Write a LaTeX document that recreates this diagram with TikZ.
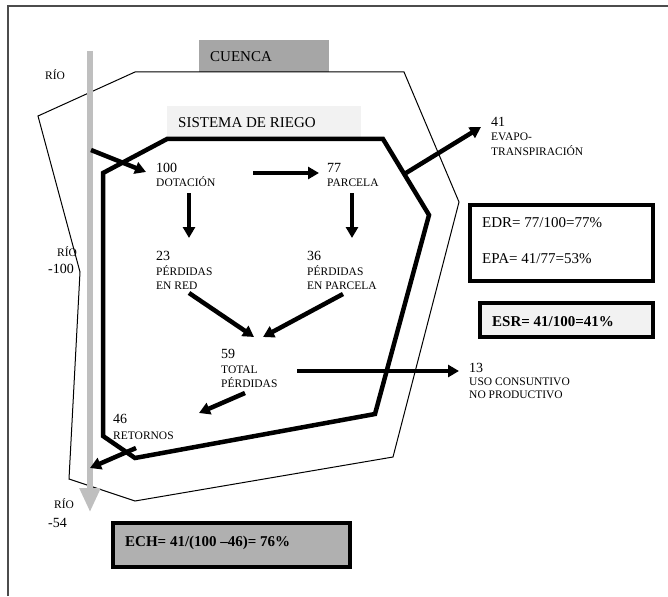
\documentclass[tikz,border=0pt]{standalone}
\usepackage{fontspec}
\setmainfont{Liberation Serif}
\usetikzlibrary{arrows.meta}
\definecolor{river}{HTML}{BFBFBF}
\definecolor{cuencafill}{HTML}{A6A6A6}
\definecolor{lightfill}{HTML}{F2F2F2}
\definecolor{echfill}{HTML}{B0B0B0}
\tikzset{
  num/.style={anchor=base west, inner sep=0pt, font=\fontsize{14}{14}\selectfont},
  lab/.style={anchor=base west, inner sep=0pt, font=\fontsize{11.5}{11.5}\selectfont},
  big/.style={anchor=base west, inner sep=0pt, font=\fontsize{15}{15}\selectfont},
  bigb/.style={anchor=base west, inner sep=0pt, font=\fontsize{15}{15}\selectfont\bfseries},
  flow/.style={line width=4.5pt, -{Triangle[length=11pt,width=12pt]}},
  boxframe/.style={draw=black, line width=4pt},
}
\begin{document}
\begin{tikzpicture}[x=1pt,y=-1pt]
\useasboundingbox (0,0) rectangle (668,596);
% frame
\draw[line width=1.5pt, black!70] (8,596) -- (8,6) -- (668,6);
% label boxes
\fill[cuencafill] (199,40) rectangle (329,72);
\fill[lightfill] (167,106) rectangle (361,139);
% outer basin
\draw[line width=1pt] (135,72) -- (404,72) -- (459,202) -- (393,457) -- (135,501) -- (69,479) -- (80,272) -- (38,116) -- cycle;
% river
\coordinate (rtop) at (90,51);
\coordinate (rbot) at (90,512);
\draw[river, line width=5.5pt, -{Triangle[length=24pt,width=20pt]}] (rtop) -- (rbot);
% irrigation system
\draw[line width=4.5pt, line join=miter] (167,139) -- (383,139) -- (429,215) -- (375,414) -- (135,458) -- (103,436) -- (103,173) -- cycle;
% texts
\node[big] (cuenca) at (210,62) {CUENCA};
\node[big] (sist) at (178,128) {SISTEMA DE RIEGO};
\node[lab] (rio1) at (45,80) {RÍO};
\node[lab] (rio2) at (57,256) {RÍO};
\node[num] (r100) at (48,273) {-100};
\node[lab] (rio3) at (54,508) {RÍO};
\node[num] (r54) at (48,527) {-54};
\node[num] (n100) at (156,172) {100};
\node[lab] (dot) at (156,186) {DOTACIÓN};
\node[num] (n77) at (327,172) {77};
\node[lab] (parc) at (327,186) {PARCELA};
\node[num] (n23) at (156,260) {23};
\node[lab] (p1) at (156,275) {PÉRDIDAS};
\node[lab] (red) at (156,289) {EN RED};
\node[num] (n36) at (307,260) {36};
\node[lab] (p2) at (307,275) {PÉRDIDAS};
\node[lab] (enp) at (307,289) {EN PARCELA};
\node[num] (n59) at (221,358) {59};
\node[lab] (tot) at (221,373) {TOTAL};
\node[lab] (p3) at (221,387) {PÉRDIDAS};
\node[num] (n46) at (113,423) {46};
\node[lab] (ret) at (113,439) {RETORNOS};
\node[num] (n41) at (491,127) {41};
\node[lab] (evap) at (491,141) {EVAPO-};
\node[lab] (trans) at (491,156) {TRANSPIRACIÓN};
\node[num] (n13) at (469,372) {13};
\node[lab] (uso) at (469,385) {USO CONSUNTIVO};
\node[lab] (nop) at (469,398) {NO PRODUCTIVO};
% result boxes
\draw[boxframe] (470,205) rectangle (653,281);
\node[big] (edr) at (482,227) {EDR= 77/100=77\%};
\node[big] (epa) at (482,263) {EPA= 41/77=53\%};
\draw[boxframe, fill=lightfill] (480,303) rectangle (653,337);
\node[bigb] (esr) at (492,326) {ESR= 41/100=41\%};
\draw[boxframe, fill=echfill] (113,523) rectangle (350,567);
\node[bigb] (ech) at (125,546) {ECH= 41/(100 –46)= 76\%};
% flow arrows
\coordinate (inA) at (91,150);   \coordinate (inB) at (146,172);
\coordinate (dpA) at (253,173);  \coordinate (dpB) at (319,173);
\coordinate (d1A) at (189,193);  \coordinate (d1B) at (189,238);
\coordinate (d2A) at (352,193);  \coordinate (d2B) at (352,238);
\coordinate (rA) at (189,293);   \coordinate (rB) at (254,337);
\coordinate (pA) at (343,294);   \coordinate (pB) at (263,337);
\coordinate (tA) at (297,371);   \coordinate (tB) at (459,371);
\coordinate (sA) at (245,393);   \coordinate (sB) at (199,413);
\coordinate (bA) at (136,448);   \coordinate (bB) at (90,468);
\coordinate (eA) at (406,173);   \coordinate (eB) at (481,127);
\draw[flow] (inA) -- (inB);
\draw[flow] (dpA) -- (dpB);
\draw[flow] (d1A) -- (d1B);
\draw[flow] (d2A) -- (d2B);
\draw[flow] (rA) -- (rB);
\draw[flow] (pA) -- (pB);
\draw[flow] (tA) -- (tB);
\draw[flow] (sA) -- (sB);
\draw[flow] (bA) -- (bB);
\draw[flow] (eA) -- (eB);
\end{tikzpicture}
\end{document}
